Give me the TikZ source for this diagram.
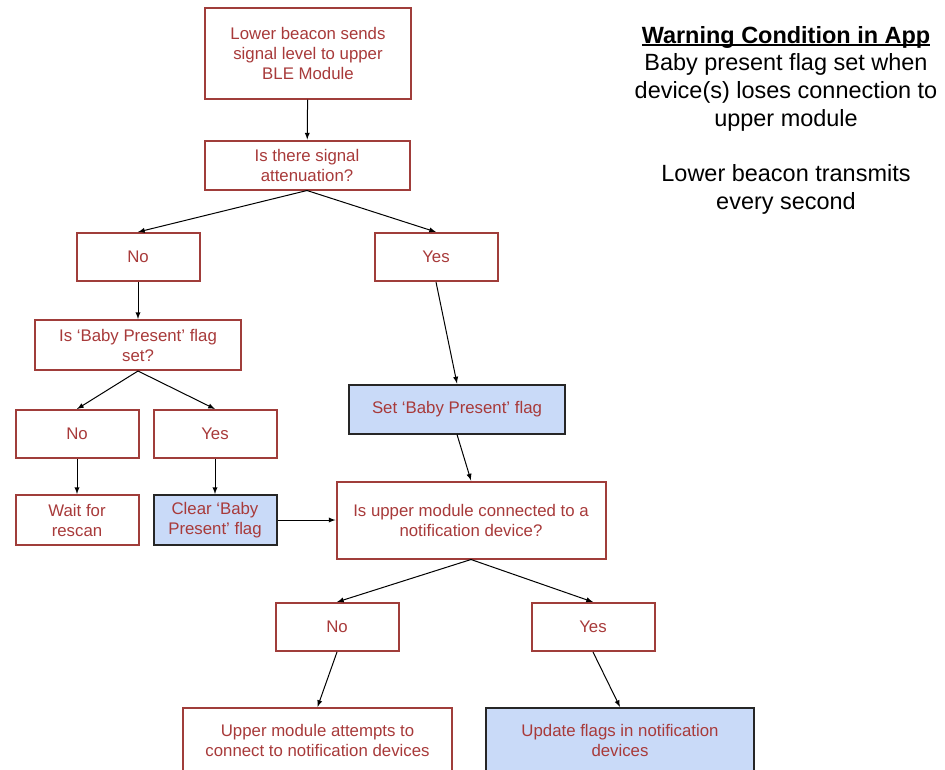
\documentclass[tikz,border=0pt]{standalone}
\usepackage{fontspec}
\setmainfont{Liberation Sans}
\definecolor{boxred}{HTML}{A03D3A}
\definecolor{txtred}{HTML}{A83A3A}
\definecolor{flagblue}{HTML}{C9DAF8}
\newcommand\ultitle[1]{\setbox0\hbox{\textbf{#1}}\rlap{\rule[-2.2pt]{\wd0}{1.2pt}}\box0}
\tikzset{
  box/.style={draw=boxred, line width=1.5pt, fill=white, text=txtred, align=center,
    font=\fontsize{12.6}{15}\selectfont, inner sep=0pt},
  flagbox/.style={box, draw=black!85, fill=flagblue},
  arr/.style={->, >=latex, line width=0.75pt}
}
\begin{document}
\begin{tikzpicture}[x=0.75pt, y=-0.75pt]
\useasboundingbox (0,0) rectangle (945,769);
\clip (0,0) rectangle (945,769);
% first column
\node[box, minimum width=154.5pt, minimum height=68.25pt] (beacon) at (308,53) {Lower beacon sends\\signal level to upper\\BLE Module};
\node[box, minimum width=153.75pt, minimum height=36.75pt] (atten) at (307,165) {Is there signal\\attenuation?};
\node[box, minimum width=92.25pt, minimum height=36pt] (noA) at (138,257) {No};
\node[box, minimum width=92.25pt, minimum height=36pt] (yesA) at (436,257) {Yes};
\node[box, minimum width=154.5pt, minimum height=37.5pt] (flagset) at (138,345) {Is `Baby Present' flag\\set?};
\node[box, minimum width=92.25pt, minimum height=36pt] (noB) at (77,434) {No};
\node[box, minimum width=92.25pt, minimum height=36pt] (yesB) at (215,434) {Yes};
\node[box, minimum width=92.25pt, minimum height=37.5pt] (rescan) at (77,520) {Wait for\\rescan};
\node[flagbox, minimum width=92.25pt, minimum height=37.5pt] (clear) at (215,520) {Clear `Baby\\Present' flag};
% second column
\node[flagbox, minimum width=162pt, minimum height=36.75pt] (setflag) at (457,409) {Set `Baby Present' flag};
\node[box, minimum width=201.75pt, minimum height=57.75pt] (connected) at (471,520) {Is upper module connected to a\\notification device?};
\node[box, minimum width=92.25pt, minimum height=36pt] (noC) at (337,627) {No};
\node[box, minimum width=92.25pt, minimum height=36pt] (yesC) at (593,627) {Yes};
\node[box, minimum width=201.75pt, minimum height=48pt] (attempt) at (317.5,740) {Upper module attempts to\\connect to notification devices};
\node[flagbox, minimum width=201pt, minimum height=48pt] (update) at (620,740) {Update flags in notification\\devices};
% note
\node[align=center, font=\fontsize{17.6}{20.75}\selectfont] (note) at (786,120)
  {\ultitle{Warning Condition in App}\\Baby present flag set when\\device(s) loses connection to\\upper module\\[20.75pt]Lower beacon transmits\\every second};
% arrows
\draw[arr] (beacon) -- (atten);
\draw[arr] (atten.south) -- (noA.north);
\draw[arr] (atten.south) -- (yesA.north);
\draw[arr] (noA) -- (flagset);
\draw[arr] (flagset.south) -- (noB.north);
\draw[arr] (flagset.south) -- (yesB.north);
\draw[arr] (noB) -- (rescan);
\draw[arr] (yesB) -- (clear);
\draw[arr] (yesA.south) -- (setflag.north);
\draw[arr] (setflag.south) -- (connected.north);
\draw[arr] (clear.east) -- (connected.west);
\draw[arr] (connected.south) -- (noC.north);
\draw[arr] (connected.south) -- (yesC.north);
\draw[arr] (noC.south) -- (attempt.north);
\draw[arr] (yesC.south) -- (update.north);
\end{tikzpicture}
\end{document}
